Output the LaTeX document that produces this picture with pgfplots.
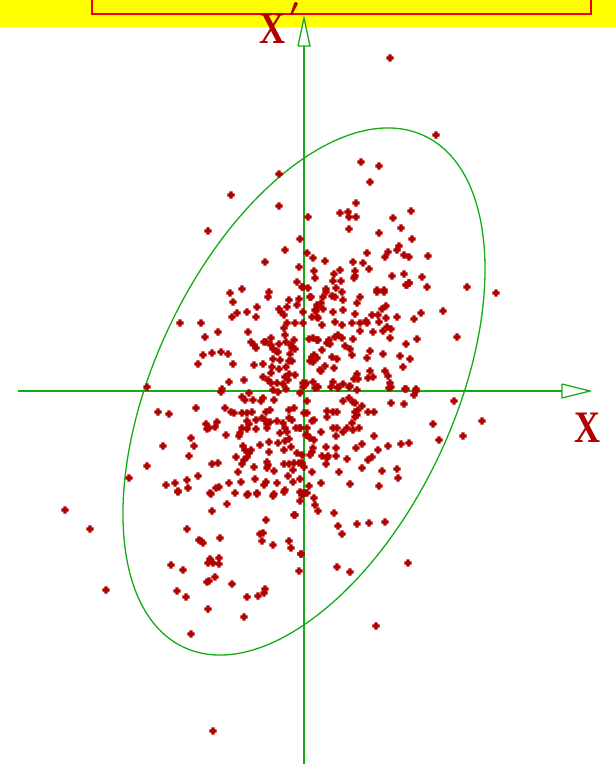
\documentclass[border=0pt]{standalone}
\usepackage{pgfplots}
\pgfplotsset{compat=1.18}
\usepackage{fontspec}
\usepackage{graphicx}
\usepackage{bm}
\setmainfont{Liberation Serif}
\definecolor{dred}{RGB}{176,0,0}
\definecolor{lgreen}{RGB}{20,172,20}
\definecolor{yel}{RGB}{255,255,0}
\definecolor{rrect}{RGB}{240,0,0}
\pgfdeclareplotmark{fatplus}{%
  \pgfpathmoveto{\pgfpoint{-1.6pt}{3.6pt}}%
  \pgfpathlineto{\pgfpoint{1.6pt}{3.6pt}}%
  \pgfpathlineto{\pgfpoint{1.6pt}{1.6pt}}%
  \pgfpathlineto{\pgfpoint{3.6pt}{1.6pt}}%
  \pgfpathlineto{\pgfpoint{3.6pt}{-1.6pt}}%
  \pgfpathlineto{\pgfpoint{1.6pt}{-1.6pt}}%
  \pgfpathlineto{\pgfpoint{1.6pt}{-3.6pt}}%
  \pgfpathlineto{\pgfpoint{-1.6pt}{-3.6pt}}%
  \pgfpathlineto{\pgfpoint{-1.6pt}{-1.6pt}}%
  \pgfpathlineto{\pgfpoint{-3.6pt}{-1.6pt}}%
  \pgfpathlineto{\pgfpoint{-3.6pt}{1.6pt}}%
  \pgfpathlineto{\pgfpoint{-1.6pt}{1.6pt}}%
  \pgfpathclose
  \pgfusepathqfill}
\begin{document}
\begin{tikzpicture}
\begin{axis}[
  width=616pt, height=764pt, scale only axis,
  xmin=0, xmax=616, ymin=0, ymax=764, y dir=reverse,
  hide axis, clip=false,
]
\fill[yel] (axis cs:0,0) rectangle (axis cs:616,27);
\draw[rrect, line width=1.8pt] (axis cs:92,0) -- (axis cs:92,14) -- (axis cs:591,14) -- (axis cs:591,0);
% axes
\addplot[lgreen, line width=1.3pt, no marks] coordinates {(18,391) (562,391)};
\addplot[lgreen, line width=1.3pt, no marks, fill=white] coordinates {(562,384) (590,391) (562,398) (562,384)};
\addplot[lgreen, line width=1.3pt, no marks] coordinates {(304,764) (304,46)};
\addplot[lgreen, line width=1.3pt, no marks, fill=white] coordinates {(298,46) (304,18) (310,46) (298,46)};
\coordinate (C) at (axis cs:304,391.5);
\draw[lgreen, line width=1.3pt, rotate around={64.8:(C)}] (C) ellipse [x radius=282.6pt, y radius=149.5pt];
\addplot[only marks, mark=fatplus, color=dred, mark options={fill=dred, draw=none}] coordinates {
(231,195) (279,206) (308,217) (208,231) (300,239) (285,250) (307,253) (313,258) (265,262) (299,267)
(314,271) (315,278) (297,282) (242,289) (303,287) (308,288)
(370,182) (356,203) (340,213) (348,212) (349,217) (356,217) (411,211) (393,218) (349,229) (401,228)
(379,233) (412,239) (325,261) (367,253) (388,252) (385,257) (399,246) (397,250) (404,255) (409,257)
(428,256) (353,262) (363,263) (369,269) (340,270) (355,271) (334,274) (355,276) (354,278) (404,274)
(392,276) (422,277) (333,281) (341,281) (336,288) (409,283) (406,285) (427,287) (377,290) (384,290) (326,289)
(302,287) (230,293) (269,292) (268,297) (233,302) (311,297) (289,300) (299,299) (297,305) (317,305)
(257,307) (279,309) (281,312) (284,315) (287,307) (237,313) (232,317) (247,312) (256,317) (303,312)
(316,311) (312,317) (317,317) (180,323) (201,323) (287,323) (295,323) (303,323) (284,328) (218,332)
(248,332) (205,337) (285,335) (294,340) (286,342) (271,338) (309,339) (313,338) (318,340) (251,342)
(254,345) (256,348) (264,342) (266,342) (271,345) (279,344) (273,349) (276,351) (278,352) (291,345)
(292,348) (295,349) (221,352) (212,353) (203,355) (228,354) (290,354) (314,355) (312,358) (313,362)
(317,358) (273,359) (280,360) (289,361) (292,361) (198,364) (233,364) (254,365) (263,364) (286,367)
(272,367) (320,370) (279,369) (271,373) (289,374) (295,375) (285,377) (263,377) (229,382) (244,380)
(268,380) (271,383) (288,380) (277,383) (283,384) (303,383) (305,385) (313,382) (317,387) (222,389)
(342,292) (326,292) (310,297) (323,297) (332,296) (335,297) (360,297) (377,292) (384,292) (407,285)
(409,283) (467,287) (357,303) (343,300) (321,303) (318,306) (315,310) (323,309) (343,310) (333,312)
(386,306) (382,309) (355,314) (372,315) (378,315) (386,318) (397,317) (421,313) (443,311) (318,318)
(366,321) (367,323) (360,323) (352,323) (335,322) (342,325) (379,322) (387,327) (414,319) (322,325)
(360,331) (373,332) (383,331) (391,329) (338,335) (335,337) (342,338) (353,339) (317,340) (329,340)
(330,344) (327,343) (345,346) (350,349) (390,338) (406,344) (417,339) (457,337) (322,350) (370,351)
(352,355) (383,354) (367,358) (400,356) (410,359) (312,357) (310,361) (315,357) (332,357) (337,359)
(325,366) (334,368) (321,371) (403,367) (370,371) (385,371) (388,376) (357,374) (358,379) (354,379)
(373,377) (368,378) (333,382) (306,383) (343,384) (350,386) (390,383) (406,389) (416,389) (338,387)
(221,392) (249,393) (273,390) (278,392) (286,389) (300,393) (242,397) (245,400) (253,400) (263,398)
(261,401) (274,400) (158,412) (169,414) (196,408) (225,408) (231,412) (234,413) (242,413) (247,413)
(252,412) (266,412) (270,410) (289,410) (294,408) (304,413) (247,421) (249,424) (256,420) (262,418)
(265,420) (270,422) (267,424) (277,421) (289,418) (292,420) (206,424) (209,428) (207,429) (217,422)
(215,427) (242,428) (240,433) (239,436) (247,429) (256,429) (267,428) (283,423) (285,428) (296,428)
(300,428) (307,428) (226,435) (280,433) (287,432) (307,435) (191,438) (289,439) (285,441) (278,443)
(269,442) (260,445) (163,446) (194,446) (243,446) (245,450) (251,450) (249,453) (291,447) (284,450)
(269,452) (189,456) (236,457) (247,457) (244,460) (242,464) (267,462) (268,465) (267,468) (297,453)
(254,467) (284,464) (289,464) (294,463) (299,463) (212,464) (218,463) (293,470) (304,467) (238,472)
(274,471) (198,476) (288,476) (255,479) (187,480) (175,483) (241,482) (266,482) (264,485) (277,483)
(229,483) (293,482) (300,479) (219,487) (216,488) (188,488) (166,485) (210,493) (178,491) (235,493)
(248,494) (257,493) (274,494) (285,490) (303,493)
(303,387) (315,388) (318,387) (331,387) (338,388) (349,387) (357,390) (389,388) (391,387) (405,389)
(414,395) (416,391) (454,401) (307,401) (343,401) (349,398) (353,402) (355,403) (391,403) (404,404)
(327,411) (327,417) (333,412) (337,412) (355,412) (358,410) (362,406) (357,415) (355,417) (368,412)
(374,412) (307,413) (312,421) (314,420) (352,423) (300,428) (321,432) (333,428) (337,428) (343,432)
(347,428) (353,430) (359,428) (433,424) (306,435) (336,436) (374,436) (463,436) (310,438) (314,440)
(439,440) (362,444) (356,448) (401,444) (409,443) (388,446) (326,447) (313,448) (312,452) (336,448)
(378,450) (302,455) (322,456) (328,456) (327,458) (310,455) (336,456) (347,459) (372,457) (368,460)
(326,464) (302,463) (362,468) (382,471) (397,469) (312,472) (339,472) (398,478) (321,483) (350,484)
(379,486) (309,486) (482,421)
(178,492) (211,494) (247,495) (257,494) (273,496) (284,492) (300,492) (305,493) (300,501) (227,504)
(212,511) (266,520) (294,515) (187,529) (220,538) (201,541) (203,543) (199,540) (260,534) (263,533)
(262,541) (289,541) (291,548) (273,545) (301,554) (171,565) (183,570) (210,559) (208,563) (213,563)
(219,558) (219,564) (215,577) (207,582) (209,581) (232,584) (299,571) (177,591) (186,597) (265,589)
(264,593) (258,596) (247,597) (208,609) (244,617)
(307,493) (302,495) (314,498) (315,505) (318,511) (295,515) (334,513) (338,526) (357,524) (369,523)
(385,522) (342,534) (301,554) (337,567) (350,572) (408,563)
(390,58) (436,135) (361,162) (379,166) (279,174) (496,293) (147,387) (129,478) (147,466)
(65,510) (90,529) (106,590) (191,634) (213,731) (376,626)
};
\node[text=dred, font=\fontsize{45}{45}\selectfont\bfseries] at (axis cs:587,428) {\scalebox{0.8}[1]{X}};
\node[text=dred, font=\fontsize{45}{45}\selectfont\bfseries] at (axis cs:272,29) {\scalebox{0.8}[1]{X}};
\node[text=dred, font=\fontsize{30}{30}\selectfont, inner sep=0pt, anchor=north] at (axis cs:294,2) {$\bm{\prime}$};
\end{axis}
\pgfresetboundingbox
\useasboundingbox (0,0) rectangle (616pt,764pt);
\end{tikzpicture}
\end{document}
